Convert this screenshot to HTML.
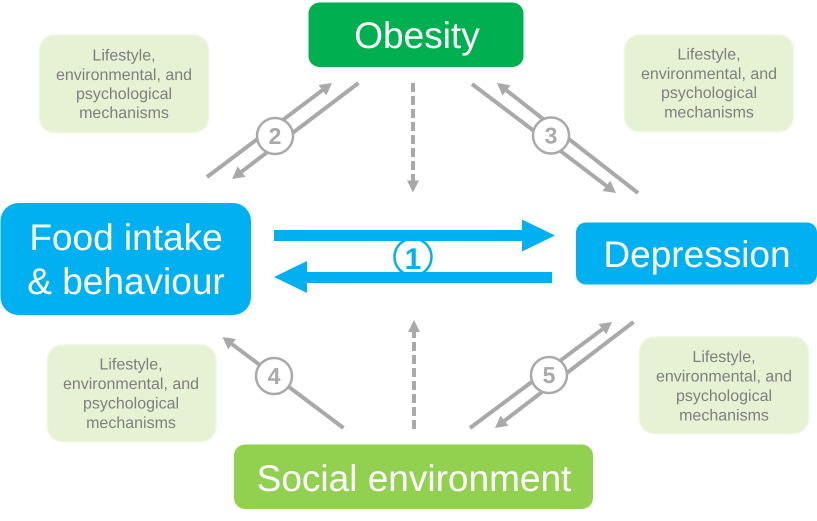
<!DOCTYPE html>
<html><head><meta charset="utf-8"><style>
html,body{margin:0;padding:0;background:#fff}
svg{display:block}
text{font-family:"Liberation Sans",sans-serif;text-rendering:geometricPrecision}
.n{fill:#fff;font-size:37px;text-anchor:middle}
.s{fill:#7f7f7f;font-size:16px;text-anchor:middle}
.l{stroke:#a9a9a9;stroke-width:4;fill:none}
.c{fill:#fff;stroke:#a9a9a9;stroke-width:2.5}
.d{fill:#a9a9a9;font-size:23px;font-weight:bold;text-anchor:middle}
.g{fill:#a9a9a9}
.b{fill:#e6f2d3;stroke:#eef6e2;stroke-width:1.5}
</style></head><body>
<svg width="817" height="521" viewBox="0 0 817 521" xmlns="http://www.w3.org/2000/svg">
<rect x="308.500" y="2.500" width="215" height="64.500" rx="11" fill="#00b050"/>
<rect x="0.500" y="203" width="250.500" height="112" rx="18" fill="#00b0f0"/>
<rect x="576" y="222.500" width="241" height="62" rx="10" fill="#00b0f0"/>
<rect x="234" y="444.500" width="359" height="64.500" rx="11" fill="#92d050"/>
<text class="n" x="417" y="48">Obesity</text>
<text class="n" x="126" y="250">Food intake</text>
<text class="n" x="126" y="294">&amp; behaviour</text>
<text class="n" x="697" y="267">Depression</text>
<text class="n" x="414" y="491">Social environment</text>

<rect class="b" x="39.500" y="35" width="169" height="97.500" rx="15"/>
<rect class="b" x="624.500" y="35" width="169" height="96.500" rx="15"/>
<rect class="b" x="47.500" y="345" width="168.500" height="96.500" rx="15"/>
<rect class="b" x="639.500" y="337" width="169" height="96.500" rx="15"/>
<text class="s" x="124" y="60.500">Lifestyle,</text><text class="s" x="124" y="80">environmental, and</text><text class="s" x="124" y="99">psychological</text><text class="s" x="124" y="118">mechanisms</text>
<text class="s" x="709" y="59.500">Lifestyle,</text><text class="s" x="709" y="79">environmental, and</text><text class="s" x="709" y="98">psychological</text><text class="s" x="709" y="117.500">mechanisms</text>
<text class="s" x="131" y="369.500">Lifestyle,</text><text class="s" x="131" y="389">environmental, and</text><text class="s" x="131" y="408.500">psychological</text><text class="s" x="131" y="428">mechanisms</text>
<text class="s" x="724" y="362">Lifestyle,</text><text class="s" x="724" y="381.500">environmental, and</text><text class="s" x="724" y="401">psychological</text><text class="s" x="724" y="420.500">mechanisms</text>

<!-- blue arrows -->
<circle cx="413" cy="257" r="18.500" fill="#fff" stroke="#00b0f0" stroke-width="2.500"/>
<text x="413" y="269" font-size="30" font-weight="bold" fill="#00b0f0" text-anchor="middle">1</text>
<polygon fill="#00b0f0" points="274,230 522,230 522,219.500 555,235.500 522,251.500 522,241 274,241"/>
<polygon fill="#00b0f0" points="552,272 307,272 307,261 274,277 307,293 307,283 552,283"/>

<!-- dashed -->
<line class="l" x1="413" y1="83" x2="413" y2="181" stroke-dasharray="9 4"/>
<polygon class="g" points="407,180.500 419,180.500 413,192.500"/>
<line class="l" x1="414" y1="429" x2="414" y2="332" stroke-dasharray="9 4"/>
<polygon class="g" points="408,332 420,332 414,320"/>

<!-- 2 -->
<line class="l" x1="207" y1="177" x2="322.400" y2="90.200"/>
<polygon class="g" points="332,83 318.500,85 326.300,95.400"/>
<line class="l" x1="358.500" y1="83" x2="241.600" y2="171.700"/>
<polygon class="g" points="232,179 245.500,176.900 237.700,166.500"/>
<circle class="c" cx="275" cy="136" r="18"/><text class="d" x="275" y="144">2</text>
<!-- 3 -->
<line class="l" x1="472" y1="84" x2="606.400" y2="185.800"/>
<polygon class="g" points="616,193 602.500,191 610.300,180.600"/>
<line class="l" x1="638" y1="193" x2="506.500" y2="90.400"/>
<polygon class="g" points="497,83 510.500,85.300 502.500,95.500"/>
<circle class="c" cx="551" cy="135.500" r="18"/><text class="d" x="551" y="143.500">3</text>
<!-- 4 -->
<line class="l" x1="343.500" y1="428" x2="232.100" y2="344.200"/>
<polygon class="g" points="222.500,337 236,339 228.200,349.400"/>
<circle class="c" cx="274" cy="376" r="18"/><text class="d" x="274" y="384">4</text>
<!-- 5 -->
<line class="l" x1="470" y1="428" x2="602.400" y2="329.200"/>
<polygon class="g" points="612,322 598.500,324 606.300,334.400"/>
<line class="l" x1="633.500" y1="322" x2="504.500" y2="420.700"/>
<polygon class="g" points="495,428 508.400,425.800 500.600,415.600"/>
<circle class="c" cx="549" cy="375" r="18"/><text class="d" x="549" y="383">5</text>
</svg>
</body></html>
